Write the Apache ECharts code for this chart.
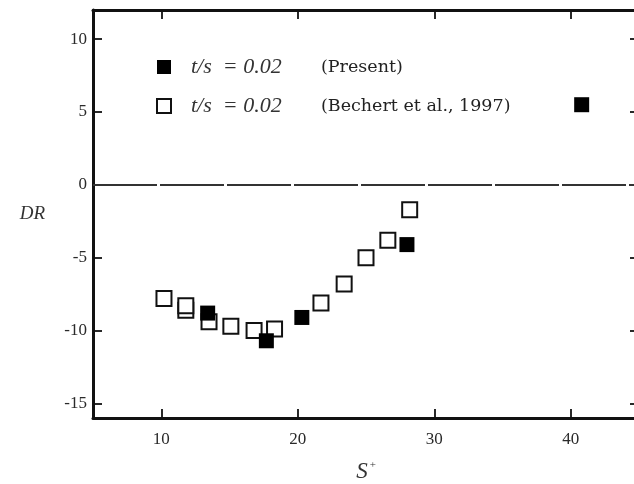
<!DOCTYPE html>
<html>
<head>
<meta charset="utf-8">
<script src="https://cdn.jsdelivr.net/npm/echarts@6/dist/echarts.min.js"></script>
<style>
  html, body { margin: 0; padding: 0; background: #fff; }
  #chart { width: 634px; height: 484px; }
</style>
</head>
<body>
<div id="chart"></div>
<script>
// S+ and DR values
var presentS = [13.4, 17.7, 20.3, 28.0, 40.8];
var presentDR = [-8.8, -10.7, -9.1, -4.1, 5.5];
var bechertS = [10.2, 11.8, 11.8, 13.5, 15.1, 16.8, 18.3, 21.7, 23.4, 25.0, 26.6, 28.2];
var bechertDR = [-7.8, -8.6, -8.3, -9.4, -9.7, -10.0, -9.9, -8.1, -6.8, -5.0, -3.8, -1.7];
var xTicks = [10, 20, 30, 40];
var yTicks = [-15, -10, -5, 0, 5, 10];

function pairs(xs, ys) {
  var out = [];
  for (var i = 0; i < xs.length; i++) out.push([xs[i], ys[i]]);
  return out;
}

var serif = "Liberation Serif";
var chart = echarts.init(document.getElementById("chart"));

var axisLine = { show: true, onZero: false, lineStyle: { color: "#111", width: 3 } };
var tickStyle = { color: "#111", width: 1.8 };

var option = {
  animation: false,
  backgroundColor: "#fff",
  grid: { left: 93, top: 10, width: 546, height: 408, outerBoundsMode: "none", containLabel: false },
  legend: {
    orient: "vertical",
    left: 151,
    top: 51,
    itemWidth: 14,
    itemHeight: 14,
    itemGap: 17,
    selectedMode: false,
    data: ["Present", "Bechert"],
    formatter: function (name) {
      var ref = name === "Present" ? "(Present)" : "(Bechert et al., 1997)";
      return "{a|t/s  = 0.02}{b|" + ref + "}";
    },
    textStyle: {
      rich: {
        a: { fontFamily: serif, fontStyle: "italic", fontSize: 22, color: "#333",
             width: 130, padding: [0, 0, 0, 15], lineHeight: 24 },
        b: { fontFamily: "DejaVu Serif", fontSize: 17.5, color: "#222", lineHeight: 24 }
      }
    }
  },
  xAxis: [
    {
      type: "value", min: 5, max: 45, position: "bottom",
      axisLine: axisLine,
      splitLine: { show: false },
      axisTick: { inside: true, length: 9, customValues: xTicks, lineStyle: tickStyle },
      axisLabel: { customValues: xTicks, margin: 13, fontFamily: serif, fontSize: 17, color: "#2a2a2a" },
      name: "{s|S}{p|+}",
      nameLocation: "middle",
      nameGap: 42,
      nameTextStyle: {
        rich: {
          s: { fontFamily: serif, fontStyle: "italic", fontSize: 23, color: "#333" },
          p: { fontFamily: serif, fontSize: 11, color: "#333", verticalAlign: "top", padding: [0, 0, 12, 2] }
        }
      }
    },
    {
      type: "value", min: 5, max: 45, position: "top",
      axisLine: axisLine,
      splitLine: { show: false },
      axisTick: { inside: true, length: 9, customValues: xTicks, lineStyle: tickStyle },
      axisLabel: { show: false }
    }
  ],
  yAxis: [
    {
      type: "value", min: -16, max: 12, position: "left",
      axisLine: axisLine,
      splitLine: { show: false },
      axisTick: { inside: true, length: 9, customValues: yTicks, lineStyle: tickStyle },
      axisLabel: { customValues: yTicks, margin: 6, fontFamily: serif, fontSize: 17, color: "#2a2a2a" },
      name: "DR",
      nameLocation: "middle",
      nameRotate: 0,
      nameGap: 48,
      nameTextStyle: { fontFamily: serif, fontStyle: "italic", fontSize: 19, color: "#333", padding: [12, 0, 0, 0] }
    },
    {
      type: "value", min: -16, max: 12, position: "right",
      axisLine: axisLine,
      splitLine: { show: false },
      axisTick: { inside: true, length: 9, customValues: yTicks, lineStyle: tickStyle },
      axisLabel: { show: false }
    }
  ],
  series: [
    {
      name: "Bechert",
      type: "scatter",
      symbol: "rect",
      symbolSize: 15,
      itemStyle: { color: "#fff", borderColor: "#111", borderWidth: 2, opacity: 1 },
      data: pairs(bechertS, bechertDR),
      markLine: {
        silent: true,
        symbol: "none",
        label: { show: false },
        lineStyle: { color: "#333", width: 2, type: [64, 3] },
        data: [{ yAxis: 0 }]
      },
      z: 2
    },
    {
      name: "Present",
      type: "scatter",
      symbol: "rect",
      symbolSize: 15,
      itemStyle: { color: "#000", opacity: 1 },
      data: pairs(presentS, presentDR),
      z: 3
    }
  ]
};

chart.setOption(option);
</script>
</body>
</html>
